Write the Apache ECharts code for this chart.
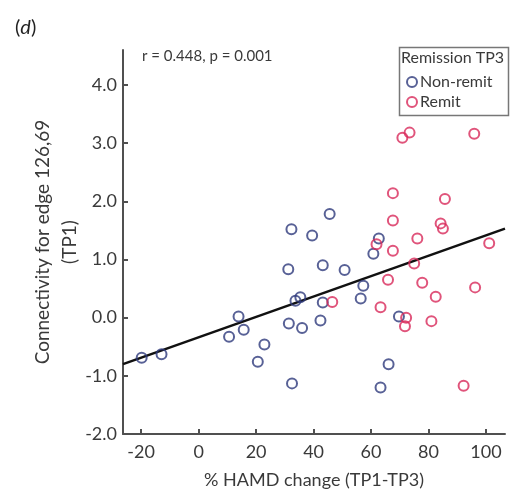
<!DOCTYPE html>
<html>
<head>
<meta charset="utf-8">
<script src="https://cdn.jsdelivr.net/npm/echarts@6/dist/echarts.min.js"></script>
<style>
  html, body { margin: 0; padding: 0; background: #fff; }
  #chart { width: 526px; height: 490px; }
</style>
</head>
<body>
<div id="chart"></div>
<script>
// values
const nonRemitX = [-19.8, -12.9, 10.6, 13.9, 15.7, 20.6, 22.9, 31.2, 32.3, 31.4, 32.5, 33.7, 35.4, 36.0,
  39.5, 42.4, 43.2, 43.2, 45.6, 50.8, 56.4, 57.3, 60.8, 62.7, 63.3, 66.1, 69.7]
const nonRemitY = [-0.69, -0.63, -0.33, 0.02, -0.21, -0.76, -0.46, 0.83, 1.52, -0.10, -1.13, 0.29, 0.35, -0.18,
  1.41, -0.05, 0.90, 0.26, 1.78, 0.82, 0.33, 0.55, 1.10, 1.36, -1.20, -0.80, 0.02]
const remitX = [46.5, 61.9, 63.3, 65.9, 67.6, 67.6, 67.6, 70.9, 73.4, 72.2, 71.8, 75.0, 76.1, 77.8,
  81.0, 82.5, 84.2, 85.0, 85.7, 92.2, 95.9, 96.2, 101.1]
const remitY = [0.27, 1.26, 0.18, 0.65, 2.14, 1.67, 1.15, 3.09, 3.18, 0.0, -0.15, 0.93, 1.36, 0.60,
  -0.06, 0.36, 1.62, 1.53, 2.04, -1.17, 3.16, 0.52, 1.28]

const xTicks = [-20, 0, 20, 40, 60, 80, 100]
const yTicks = [-2, -1, 0, 1, 2, 3, 4]
const xRange = [-26.3, 106.6]
const yRange = [-2, 4.6]

// fitted line
const slope = 0.01753
const intercept = -0.339

const zip = (xs, ys) => xs.map((x, i) => [x, ys[i]])
const fitLine = xRange.map((x) => [x, intercept + slope * x])

const BLUE = "#2e3a7c"
const RED = "#d8295a"
const AXIS = "#505050"
const TEXT = "#3a3a3a"
const FONT = "Lato"

const chart = echarts.init(document.getElementById("chart"))

const option = {
  backgroundColor: "#fff",
  animation: false,
  textStyle: { fontFamily: FONT },
  grid: { left: 123, right: 21, top: 50, bottom: 56, outerBoundsMode: "none", containLabel: false },
  xAxis: {
    type: "value",
    min: xRange[0],
    max: xRange[1],
    name: "% HAMD change (TP1-TP3)",
    nameLocation: "middle",
    nameGap: 37,
    nameMoveOverlap: false,
    nameTextStyle: { color: TEXT, fontSize: 18, fontFamily: FONT },
    axisLine: { onZero: false, lineStyle: { color: AXIS, width: 2 } },
    axisTick: { inside: true, length: 5, customValues: xTicks, lineStyle: { color: AXIS, width: 2 } },
    axisLabel: { customValues: xTicks, color: TEXT, fontSize: 18, margin: 9, fontFamily: FONT },
    splitLine: { show: false },
  },
  yAxis: {
    type: "value",
    min: yRange[0],
    max: yRange[1],
    name: "Connectivity for edge 126,69\n(TP1)",
    nameLocation: "middle",
    nameGap: 40,
    nameMoveOverlap: false,
    nameTextStyle: { color: TEXT, fontSize: 19, lineHeight: 27, fontFamily: FONT },
    axisLine: { onZero: false, lineStyle: { color: AXIS, width: 2 } },
    axisTick: { inside: true, length: 5, customValues: yTicks, lineStyle: { color: AXIS, width: 2 } },
    axisLabel: {
      customValues: yTicks,
      color: TEXT,
      fontSize: 18,
      margin: 6,
      fontFamily: FONT,
      formatter: (v) => v.toFixed(1),
    },
    splitLine: { show: false },
  },
  legend: {
    orient: "vertical",
    left: 406,
    top: 74,
    padding: 0,
    itemGap: 4,
    itemWidth: 10,
    itemHeight: 10,
    icon: "circle",
    textStyle: { color: TEXT, fontSize: 16, padding: [0, 0, 0, -2], fontFamily: FONT },
    data: ["Non-remit", "Remit"],
  },
  graphic: [
    {
      type: "text",
      left: 15,
      top: 18,
      style: {
        text: "{n|(}{i|d}{n|)}",
        rich: {
          n: { fontSize: 20, fill: "#222", fontFamily: FONT },
          i: { fontSize: 20, fill: "#222", fontStyle: "italic", fontFamily: FONT },
        },
      },
    },
    {
      type: "text",
      left: 142,
      top: 49,
      style: { text: "r = 0.448, p = 0.001", fontSize: 15, fill: TEXT, fontFamily: FONT },
    },
    {
      type: "rect",
      left: 397,
      top: 45,
      shape: { width: 109, height: 68 },
      style: { fill: "none", stroke: "#777", lineWidth: 1.5 },
    },
    {
      type: "text",
      left: 401,
      top: 50,
      style: { text: "Remission TP3", fontSize: 16, fill: TEXT, fontFamily: FONT },
    },
  ],
  series: [
    {
      name: "Non-remit",
      type: "scatter",
      data: zip(nonRemitX, nonRemitY),
      symbol: "circle",
      symbolSize: 10,
      itemStyle: { color: "rgba(0,0,0,0)", borderColor: BLUE, borderWidth: 2 },
      z: 3,
    },
    {
      name: "Remit",
      type: "scatter",
      data: zip(remitX, remitY),
      symbol: "circle",
      symbolSize: 10,
      itemStyle: { color: "rgba(0,0,0,0)", borderColor: RED, borderWidth: 2 },
      z: 3,
    },
    {
      name: "fit",
      type: "line",
      data: fitLine,
      showSymbol: false,
      silent: true,
      lineStyle: { color: "#111", width: 2.5 },
      z: 2,
    },
  ],
}

chart.setOption(option)
</script>
</body>
</html>
